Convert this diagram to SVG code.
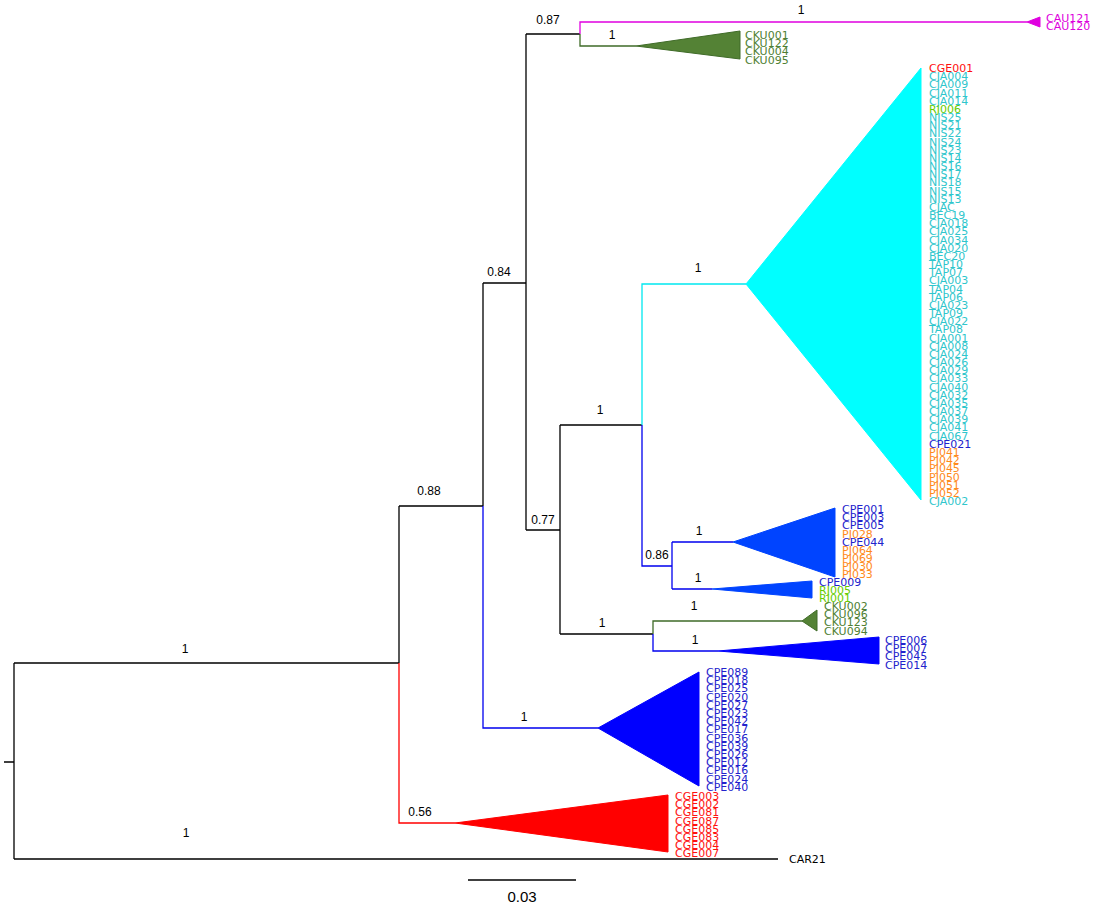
<svg xmlns="http://www.w3.org/2000/svg" width="1093" height="905" viewBox="0 0 1093 905">
<style>
.e{fill:none;stroke-width:1.3}
.k{stroke:#000}
.r{stroke:#ff0000}
.b{stroke:#0000ee}
.c{stroke:#00e8f0}
.m{stroke:#e000e0}
.g{stroke:#3f6b28}
.bl{font-family:"Liberation Sans",Arial,sans-serif;font-size:12px;fill:#000;text-anchor:middle}
.lb{font-family:"DejaVu Sans","Noto Sans",sans-serif;font-size:11px}
.tC{fill:#2fc6cc}.tB{fill:#2222cc}.tO{fill:#ff8a1c}.tL{fill:#66cc00}.tG{fill:#4f7f33}.tR{fill:#ff1010}.tM{fill:#dd00dd}.tK{fill:#000}
</style>
<rect width="1093" height="905" fill="#fff"/>
<g id="connectors">
<path class="e k" d="M4 762H14M14 663V859M14 663H399M14 859H778"/>
<path class="e k" d="M399 506V663M399 506H483"/>
<path class="e r" d="M399 663V823H455"/>
<path class="e k" d="M483 283V506M483 283H526"/>
<path class="e b" d="M483 506V728H598"/>
<path class="e k" d="M526 34V530M526 34H580M526 530H560"/>
<path class="e m" d="M580 34V22H1027"/>
<path class="e g" d="M580 34V46H636"/>
<path class="e k" d="M560 425V634M560 425H642M560 634H653"/>
<path class="e c" d="M642 425V284H746"/>
<path class="e b" d="M642 425V566H672M672 542V589M672 542H733M672 589H712"/>
<path class="e g" d="M653 634V621H802"/>
<path class="e b" d="M653 634V651H718"/>
<path class="e k" d="M468 880H576"/>
</g>
<g id="branch-labels" class="bl">
<text x="185" y="653">1</text>
<text x="186" y="837">1</text>
<text x="429" y="495">0.88</text>
<text x="420" y="816">0.56</text>
<text x="499" y="276">0.84</text>
<text x="524" y="721">1</text>
<text x="548" y="24">0.87</text>
<text x="543" y="524">0.77</text>
<text x="801" y="14">1</text>
<text x="612" y="39">1</text>
<text x="600" y="414">1</text>
<text x="602" y="627">1</text>
<text x="698" y="272">1</text>
<text x="657" y="559">0.86</text>
<text x="699" y="535">1</text>
<text x="698" y="582">1</text>
<text x="694" y="610">1</text>
<text x="695" y="644">1</text>
<text x="522" y="902" style="font-size:15px">0.03</text>
</g>
<g id="clade-cau">
<polygon points="1027,22 1040,17 1040,27" fill="#e000e0" stroke="#e000e0"/>
<text class="lb tM" x="1046" y="22"><tspan x="1046">CAU121</tspan><tspan x="1046" dy="8.2">CAU120</tspan></text>
</g>
<g id="clade-cku1">
<polygon points="636,46 740,31 740,59" fill="#548235" stroke="#3f6b28"/>
<text class="lb tG" x="745" y="39"><tspan x="745">CKU001</tspan><tspan x="745" dy="8.17">CKU122</tspan><tspan x="745" dy="8.17">CKU004</tspan><tspan x="745" dy="8.17">CKU095</tspan></text>
</g>
<g id="clade-cyan">
<polygon points="746,284 921,68 921,500" fill="#00ffff" stroke="#00ffff"/>
<text class="lb tC" x="929" y="72"><tspan x="929" class="tR">CGE001</tspan><tspan x="929" dy="8.17">CJA004</tspan><tspan x="929" dy="8.17">CJA009</tspan><tspan x="929" dy="8.17">CJA011</tspan><tspan x="929" dy="8.17">CJA014</tspan><tspan x="929" dy="8.17" class="tL">RJ006</tspan><tspan x="929" dy="8.17">NIS25</tspan><tspan x="929" dy="8.17">NIS21</tspan><tspan x="929" dy="8.17">NIS22</tspan><tspan x="929" dy="8.17">NIS24</tspan><tspan x="929" dy="8.17">NIS23</tspan><tspan x="929" dy="8.17">NIS14</tspan><tspan x="929" dy="8.17">NIS16</tspan><tspan x="929" dy="8.17">NIS17</tspan><tspan x="929" dy="8.17">NIS18</tspan><tspan x="929" dy="8.17">NIS15</tspan><tspan x="929" dy="8.17">NIS13</tspan><tspan x="929" dy="8.17">CJAC</tspan><tspan x="929" dy="8.17">BEC19</tspan><tspan x="929" dy="8.17">CJA018</tspan><tspan x="929" dy="8.17">CJA025</tspan><tspan x="929" dy="8.17">CJA034</tspan><tspan x="929" dy="8.17">CJA020</tspan><tspan x="929" dy="8.17">BEC20</tspan><tspan x="929" dy="8.17">TAP10</tspan><tspan x="929" dy="8.17">TAP07</tspan><tspan x="929" dy="8.17">CJA003</tspan><tspan x="929" dy="8.17">TAP04</tspan><tspan x="929" dy="8.17">TAP06</tspan><tspan x="929" dy="8.17">CJA023</tspan><tspan x="929" dy="8.17">TAP09</tspan><tspan x="929" dy="8.17">CJA022</tspan><tspan x="929" dy="8.17">TAP08</tspan><tspan x="929" dy="8.17">CJA001</tspan><tspan x="929" dy="8.17">CJA008</tspan><tspan x="929" dy="8.17">CJA024</tspan><tspan x="929" dy="8.17">CJA026</tspan><tspan x="929" dy="8.17">CJA029</tspan><tspan x="929" dy="8.17">CJA033</tspan><tspan x="929" dy="8.17">CJA040</tspan><tspan x="929" dy="8.17">CJA032</tspan><tspan x="929" dy="8.17">CJA035</tspan><tspan x="929" dy="8.17">CJA037</tspan><tspan x="929" dy="8.17">CJA039</tspan><tspan x="929" dy="8.17">CJA041</tspan><tspan x="929" dy="8.17">CJA067</tspan><tspan x="929" dy="8.17" class="tB">CPE021</tspan><tspan x="929" dy="8.17" class="tO">PJ041</tspan><tspan x="929" dy="8.17" class="tO">PJ042</tspan><tspan x="929" dy="8.17" class="tO">PJ045</tspan><tspan x="929" dy="8.17" class="tO">PJ050</tspan><tspan x="929" dy="8.17" class="tO">PJ051</tspan><tspan x="929" dy="8.17" class="tO">PJ052</tspan><tspan x="929" dy="8.17">CJA002</tspan></text>
</g>
<g id="clade-cpe-pj">
<polygon points="733,542 835,508 835,577" fill="#0044ff" stroke="#0044ff"/>
<text class="lb tB" x="842" y="513"><tspan x="842">CPE001</tspan><tspan x="842" dy="8.17">CPE003</tspan><tspan x="842" dy="8.17">CPE005</tspan><tspan x="842" dy="8.17" class="tO">PJ028</tspan><tspan x="842" dy="8.17">CPE044</tspan><tspan x="842" dy="8.17" class="tO">PJ064</tspan><tspan x="842" dy="8.17" class="tO">PJ069</tspan><tspan x="842" dy="8.17" class="tO">PJ030</tspan><tspan x="842" dy="8.17" class="tO">PJ033</tspan></text>
</g>
<g id="clade-cpe009">
<polygon points="712,589 812,581 812,598" fill="#0044ff" stroke="#0044ff"/>
<text class="lb tB" x="819" y="586"><tspan x="819">CPE009</tspan><tspan x="819" dy="8.17" class="tL">RJ005</tspan><tspan x="819" dy="8.17" class="tL">RJ001</tspan></text>
</g>
<g id="clade-cku2">
<polygon points="802,621 817,610 817,631" fill="#548235" stroke="#3f6b28"/>
<text class="lb tG" x="824" y="610"><tspan x="824">CKU002</tspan><tspan x="824" dy="8.17">CKU096</tspan><tspan x="824" dy="8.17">CKU123</tspan><tspan x="824" dy="8.17">CKU094</tspan></text>
</g>
<g id="clade-cpe006">
<polygon points="718,651 879,637 879,664" fill="#0000ff" stroke="#0000ff"/>
<text class="lb tB" x="885" y="644"><tspan x="885">CPE006</tspan><tspan x="885" dy="8.17">CPE007</tspan><tspan x="885" dy="8.17">CPE045</tspan><tspan x="885" dy="8.17">CPE014</tspan></text>
</g>
<g id="clade-cpe-big">
<polygon points="598,728 699,672 699,786" fill="#0000ff" stroke="#0000ff"/>
<text class="lb tB" x="706" y="676"><tspan x="706">CPE089</tspan><tspan x="706" dy="8.2">CPE018</tspan><tspan x="706" dy="8.2">CPE025</tspan><tspan x="706" dy="8.2">CPE020</tspan><tspan x="706" dy="8.2">CPE027</tspan><tspan x="706" dy="8.2">CPE023</tspan><tspan x="706" dy="8.2">CPE042</tspan><tspan x="706" dy="8.2">CPE017</tspan><tspan x="706" dy="8.2">CPE036</tspan><tspan x="706" dy="8.2">CPE039</tspan><tspan x="706" dy="8.2">CPE026</tspan><tspan x="706" dy="8.2">CPE012</tspan><tspan x="706" dy="8.2">CPE016</tspan><tspan x="706" dy="8.2">CPE024</tspan><tspan x="706" dy="8.2">CPE040</tspan></text>
</g>
<g id="clade-cge">
<polygon points="455,823 668,795 668,852" fill="#ff0000" stroke="#ff0000"/>
<text class="lb tR" x="675" y="800"><tspan x="675">CGE003</tspan><tspan x="675" dy="8.17">CGE002</tspan><tspan x="675" dy="8.17">CGE081</tspan><tspan x="675" dy="8.17">CGE087</tspan><tspan x="675" dy="8.17">CGE085</tspan><tspan x="675" dy="8.17">CGE083</tspan><tspan x="675" dy="8.17">CGE004</tspan><tspan x="675" dy="8.17">CGE007</tspan></text>
</g>
<g id="leaf-car21">
<text class="lb tK" x="789" y="863">CAR21</text>
</g>
</svg>
